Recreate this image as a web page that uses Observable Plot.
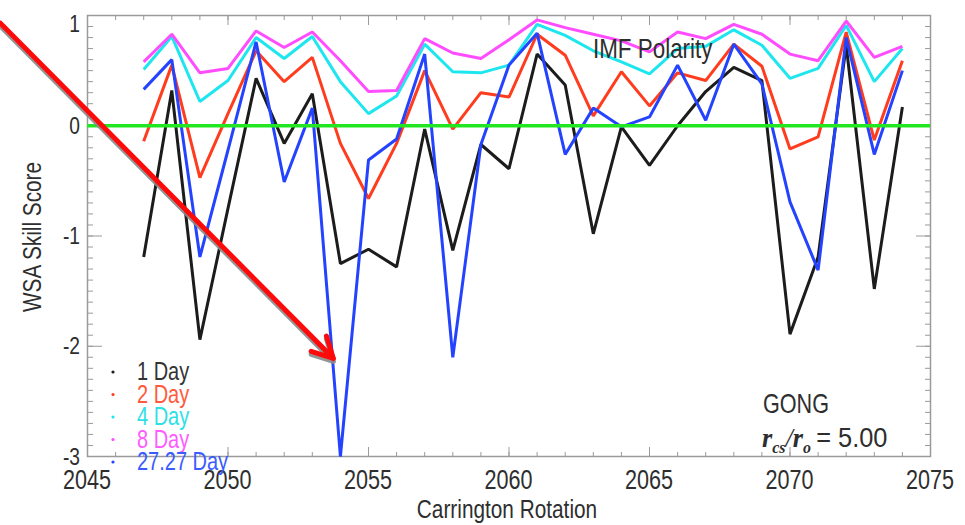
<!DOCTYPE html>
<html>
<head>
<meta charset="utf-8">
<script src="https://cdn.jsdelivr.net/npm/d3@7"></script>
<script src="https://cdn.jsdelivr.net/npm/@observablehq/plot@0.6"></script>
<style>
  html, body { margin: 0; padding: 0; background: #ffffff; }
  #chart { width: 965px; height: 525px; }
</style>
</head>
<body>
<div id="chart"></div>
<script>
// ---- data ----
const rotations = [2047, 2048, 2049, 2050, 2051, 2052, 2053, 2054, 2055, 2056, 2057, 2058, 2059, 2060,
                   2061, 2062, 2063, 2064, 2065, 2066, 2067, 2068, 2069, 2070, 2071, 2072, 2073, 2074];
const day1  = [-1.19, 0.32, -1.94, -0.75, 0.43, -0.16, 0.29, -1.25, -1.12, -1.28, -0.03, -1.13, -0.17, -0.39,
               0.65, 0.37, -0.98, -0.01, -0.36, 0.00, 0.31, 0.53, 0.41, -1.89, -1.19, 0.73, -1.48, 0.17];
const day2  = [-0.14, 0.55, -0.47, 0.11, 0.68, 0.40, 0.62, -0.16, -0.66, -0.16, 0.50, -0.03, 0.30, 0.26,
               0.83, 0.64, 0.09, 0.49, 0.18, 0.48, 0.41, 0.74, 0.54, -0.21, -0.10, 0.85, -0.13, 0.59];
const day4  = [0.51, 0.81, 0.22, 0.41, 0.80, 0.61, 0.81, 0.40, 0.11, 0.27, 0.74, 0.49, 0.48, 0.55,
               0.92, 0.82, 0.68, 0.58, 0.47, 0.70, 0.72, 0.87, 0.73, 0.43, 0.52, 0.91, 0.40, 0.70];
const day8  = [0.58, 0.83, 0.48, 0.52, 0.86, 0.71, 0.85, 0.59, 0.31, 0.32, 0.79, 0.66, 0.61, 0.78,
               0.96, 0.89, 0.83, 0.77, 0.67, 0.85, 0.79, 0.92, 0.83, 0.65, 0.59, 0.95, 0.62, 0.72];
const day27 = [0.33, 0.60, -1.19, -0.22, 0.76, -0.51, 0.16, -3.00, -0.31, -0.12, 0.65, -2.10, -0.17, 0.55,
               0.84, -0.26, 0.16, -0.01, 0.08, 0.55, 0.05, 0.74, 0.38, -0.69, -1.31, 0.80, -0.26, 0.50];

const seriesNames  = ["1 Day", "2 Day", "4 Day", "8 Day", "27.27 Day"];
const seriesValues = [day1, day2, day4, day8, day27];
const seriesColors = ["#1c1c1c", "#ff3c1e", "#1ee6ee", "#ff4cff", "#2443ff"];
const legendColors = ["#333333", "#ff5a3c", "#2ee0e6", "#ff5cff", "#3a5cff"];

const xTicks = [2045, 2050, 2055, 2060, 2065, 2070, 2075];
const yTicks = [-3, -2, -1, 0, 1];
const xMinor = d3.range(2045, 2076, 1);
const yMinor = d3.range(-30, 11, 1).map(d => d / 10);

const arrowStart = {x: 2041.9, y: 0.93};
const arrowEnd   = {x: 2053.75, y: -2.11};

const xLabel = "Carrington Rotation";
const yLabel = "WSA Skill Score";
const noteTitle = "IMF Polarity";
const noteSource = "GONG";

// ---- chart ----
const SANS = "'Liberation Sans', Arial, Helvetica, sans-serif";
const SERIF = "'Liberation Serif','DejaVu Serif',serif";
const NARROW_K = 0.8;   // horizontal squeeze to mimic the condensed face
const W = 965, H = 525, mL = 87, mR = 35, mT = 15, mB = 69;
const axisGray = "#9a9a9a";
const textGray = "#2e2e2e";

const lineMarks = seriesValues.map((vals, i) =>
  Plot.line(rotations, {x: d => d, y: vals, stroke: seriesColors[i], strokeWidth: 3,
    strokeLinejoin: "miter", strokeLinecap: "butt"}));

const chart = Plot.plot({
  width: W, height: H,
  marginLeft: mL, marginRight: mR, marginTop: mT, marginBottom: mB,
  x: {domain: [2045, 2075]},
  y: {domain: [-3, 1]},
  style: {fontFamily: SANS, background: "#ffffff", color: textGray},
  marks: [
    Plot.frame({stroke: axisGray, strokeWidth: 1.5}),
    // minor + major ticks, inward on all four sides
    Plot.axisX(xMinor, {anchor: "bottom", tickSize: -4, text: null, label: null, stroke: axisGray}),
    Plot.axisX(xTicks, {anchor: "bottom", tickSize: -9, text: null, label: null, stroke: axisGray}),
    Plot.axisX(xMinor, {anchor: "top", tickSize: -4, text: null, label: null, stroke: axisGray}),
    Plot.axisX(xTicks, {anchor: "top", tickSize: -9, text: null, label: null, stroke: axisGray}),
    Plot.axisY(yMinor, {anchor: "left", tickSize: -6, text: null, label: null, stroke: axisGray}),
    Plot.axisY(yTicks, {anchor: "left", tickSize: -15, text: null, label: null, stroke: axisGray}),
    Plot.axisY(yMinor, {anchor: "right", tickSize: -6, text: null, label: null, stroke: axisGray}),
    Plot.axisY(yTicks, {anchor: "right", tickSize: -15, text: null, label: null, stroke: axisGray}),
    ...lineMarks,
    Plot.ruleY([0], {stroke: "#22e622", strokeWidth: 3.5}),
    Plot.arrow([0], {x1: () => arrowStart.x, y1: () => arrowStart.y, x2: () => arrowEnd.x, y2: () => arrowEnd.y,
      stroke: "#8a8a8a", strokeWidth: 5, headAngle: 55, headLength: 7, dx: 0, dy: 3, strokeOpacity: 0.9}),
    Plot.arrow([0], {x1: () => arrowStart.x, y1: () => arrowStart.y, x2: () => arrowEnd.x, y2: () => arrowEnd.y,
      stroke: "#ff0a0a", strokeWidth: 5, headAngle: 55, headLength: 7})
  ]
});

document.getElementById("chart").appendChild(chart);

// ---- text (condensed via horizontal scale) ----
const sx = chart.scale("x"), sy = chart.scale("y");
const svg = d3.select(chart);
const g = svg.append("g").attr("font-family", SANS);

function label(x, y, str, {size = 22, fill = textGray, anchor = "start", rotate = 0, dy = null} = {}) {
  const t = g.append("text")
    .attr("transform", `translate(${x},${y})${rotate ? ` rotate(${rotate})` : ""} scale(${NARROW_K},1)`)
    .attr("text-anchor", anchor).attr("font-size", size).attr("fill", fill).text(str);
  if (dy != null) t.attr("dy", dy);
  return t;
}

// tick labels through the plot's own scales
xTicks.forEach(v => label(sx.apply(v), 489, String(v), {size: 27, anchor: "middle"}));
yTicks.forEach(v => label(mL - 7, Math.max(sy.apply(v), mT + 8), String(v), {size: 24, anchor: "end", dy: "0.36em"}));

// axis titles
label(507, 518, xLabel, {size: 26, anchor: "middle"});
label(41, 237, yLabel, {size: 26, anchor: "middle", rotate: -90});

// IMF Polarity
label(593, 58, noteTitle, {size: 28});

// legend
seriesNames.forEach((name, i) => {
  const base = 380 + i * 22.5;
  g.append("circle").attr("cx", 113).attr("cy", base - 8).attr("r", 1.6).attr("fill", seriesColors[i]);
  label(137, base, name, {size: 25, fill: legendColors[i]});
});

// GONG note
label(763, 413, noteSource, {size: 27});
const r = g.append("text").attr("transform", `translate(762,447) scale(0.94,1)`)
  .attr("text-anchor", "start").attr("fill", textGray);
r.append("tspan").attr("font-family", SERIF).attr("font-style", "italic").attr("font-weight", "bold")
  .attr("font-size", 28).text("r");
r.append("tspan").attr("font-family", SERIF).attr("font-style", "italic").attr("font-weight", "bold")
  .attr("font-size", 17).attr("dy", 6).text("cs");
r.append("tspan").attr("font-family", SERIF).attr("font-style", "italic")
  .attr("font-size", 28).attr("dy", -6).text("/");
r.append("tspan").attr("font-family", SERIF).attr("font-style", "italic").attr("font-weight", "bold")
  .attr("font-size", 28).text("r");
r.append("tspan").attr("font-family", SERIF).attr("font-style", "italic").attr("font-weight", "bold")
  .attr("font-size", 17).attr("dy", 6).text("o");
r.append("tspan").attr("font-size", 27).attr("dy", -6).attr("transform", null).text("\u2009= 5.00");
</script>
</body>
</html>
